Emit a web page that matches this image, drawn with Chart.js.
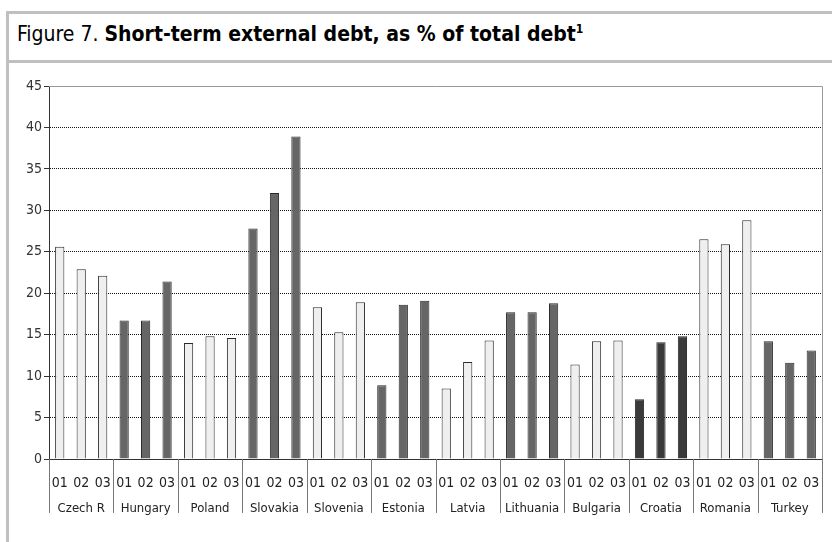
<!DOCTYPE html>
<html>
<head>
<meta charset="utf-8">
<script src="https://cdn.jsdelivr.net/npm/chart.js@4"></script>
<style>
    html, body { margin: 0; padding: 0; background: #fff; }
    #frame {
        position: absolute; left: 6px; top: 11px; width: 840px; height: 560px;
        border-left: 3px solid #c0c0c0; border-top: 3px solid #c0c0c0;
    }
    #title-bar {
        position: absolute; left: 9px; top: 14px; width: 830px; height: 46px;
        border-bottom: 3px solid #c0c0c0;
    }
    #title {
        position: absolute; left: 8px; top: 8px; margin: 0;
        font-family: "DejaVu Sans Condensed", "Liberation Sans Narrow", sans-serif;
        font-size: 21px; font-weight: normal; color: #000; white-space: nowrap;
    }
    #title b { font-weight: bold; }
    #title sup { font-size: 12px; font-weight: bold; }
    #chart-wrap { position: absolute; left: 0; top: 0; width: 832px; height: 542px; }
</style>
</head>
<body>
<div id="frame"></div>
<div id="title-bar"><h1 id="title">Figure 7. <b>Short-term external debt, as % of total debt<sup>1</sup></b></h1></div>
<div id="chart-wrap"><canvas id="debtChart" width="832" height="542"></canvas></div>

<script>
// --- Data ---
const countries = ['Czech R', 'Hungary', 'Poland', 'Slovakia', 'Slovenia', 'Estonia',
    'Latvia', 'Lithuania', 'Bulgaria', 'Croatia', 'Romania', 'Turkey'];
const years = ['01', '02', '03'];

// short-term external debt as % of total, 2001-2003, per country
const share2001 = [25.6, 16.7, 14.0, 27.8, 18.3, 8.9, 8.5, 17.7, 11.4, 7.2, 26.5, 14.2];
const share2002 = [22.9, 16.7, 14.8, 32.1, 15.3, 18.6, 11.7, 17.7, 14.2, 14.1, 25.9, 11.6];
const share2003 = [22.1, 21.4, 14.6, 38.9, 18.9, 19.1, 14.3, 18.8, 14.3, 14.8, 28.8, 13.1];

const yTicks = [0, 5, 10, 15, 20, 25, 30, 35, 40, 45];

// --- Styling ---
const shadeOf = ['light', 'dark', 'light', 'dark', 'light', 'dark',
    'light', 'dark', 'light', 'darker', 'light', 'dark'];
const fills = { light: '#efefef', dark: '#666666', darker: '#3a3a3a' };
const tickFont = { family: '"DejaVu Sans Condensed", "Liberation Sans Narrow", sans-serif', size: 14 };

// flatten country x year into one bar series
const barLabels = [];
const barValues = [];
const barColors = [];
countries.forEach((c, i) => {
    [share2001[i], share2002[i], share2003[i]].forEach((v, j) => {
        barLabels.push(years[j]);
        barValues.push(v);
        barColors.push(fills[shadeOf[i]]);
    });
});

// vertical separators between country groups, running down through both label rows
const groupSeparators = {
    id: 'groupSeparators',
    afterDraw(chart) {
        const { ctx, chartArea, scales } = chart;
        const x = scales.x;
        const bottom = scales.x2.bottom - 2;
        ctx.save();
        ctx.setLineDash([]);
        ctx.strokeStyle = '#777';
        ctx.lineWidth = 1;
        for (let g = 0; g <= countries.length; g++) {
            let px;
            if (g === 0) px = chartArea.left;
            else if (g === countries.length) px = chartArea.right;
            else px = (x.getPixelForValue(g * 3 - 1) + x.getPixelForValue(g * 3)) / 2;
            px = Math.round(px) + 0.5;
            ctx.beginPath();
            ctx.moveTo(px, chartArea.bottom);
            ctx.lineTo(px, bottom);
            ctx.stroke();
        }
        // plot frame on top and right
        ctx.strokeStyle = '#999';
        ctx.beginPath();
        ctx.moveTo(chartArea.left, Math.round(chartArea.top) + 0.5);
        ctx.lineTo(Math.round(chartArea.right) + 0.5, Math.round(chartArea.top) + 0.5);
        ctx.lineTo(Math.round(chartArea.right) + 0.5, chartArea.bottom);
        ctx.stroke();
        ctx.restore();
    }
};

new Chart(document.getElementById('debtChart').getContext('2d'), {
    type: 'bar',
    data: {
        labels: barLabels,
        datasets: [{
            data: barValues,
            backgroundColor: barColors,
            borderColor: '#2a2a2a',
            borderWidth: 1,
            borderSkipped: 'bottom',
            categoryPercentage: 1,
            barPercentage: 0.43
        }]
    },
    options: {
        responsive: false,
        animation: false,
        layout: { padding: { left: 0, top: 86, right: 10, bottom: 27 } },
        plugins: { legend: { display: false }, tooltip: { enabled: false } },
        scales: {
            y: {
                min: 0,
                max: 45,
                afterBuildTicks: (scale) => { scale.ticks = yTicks.map(v => ({ value: v })); },
                afterFit: (scale) => { scale.width = 49; },
                border: { display: true, color: '#333', width: 1, dash: [1, 1] },
                grid: {
                    color: (c) => (c.tick.value === 0 || c.tick.value === 45) ? 'rgba(0,0,0,0)' : '#111',
                    lineWidth: 1,
                    tickColor: '#333',
                    tickLength: 5
                },
                ticks: { color: '#333', font: tickFont, padding: 2 }
            },
            x: {
                position: 'bottom',
                afterFit: (scale) => { scale.height = 30; },
                border: { display: true, color: '#333', width: 1 },
                grid: { display: false },
                ticks: { color: '#222', font: tickFont, padding: 8, maxRotation: 0, autoSkip: false }
            },
            x2: {
                type: 'category',
                position: 'bottom',
                labels: countries,
                offset: true,
                afterFit: (scale) => { scale.height = 26; },
                border: { display: false },
                grid: { display: false },
                ticks: { color: '#222', font: { ...tickFont, size: 13 }, padding: 4, maxRotation: 0, autoSkip: false }
            }
        }
    },
    plugins: [groupSeparators]
});
</script>
</body>
</html>
